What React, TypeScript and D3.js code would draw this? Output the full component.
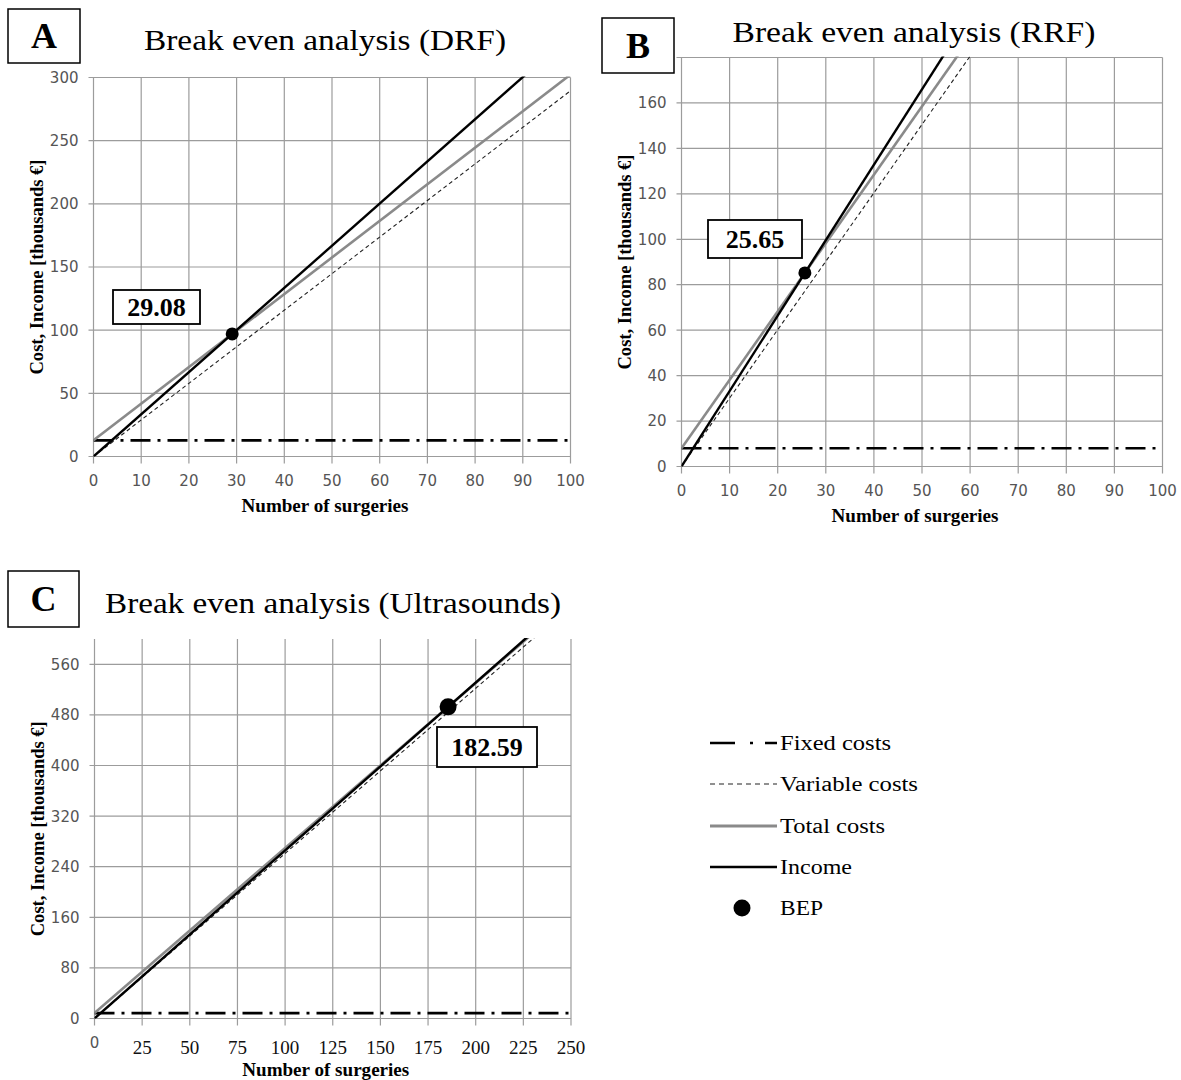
import * as d3 from "d3";
import { useEffect, useRef } from "react";

// Panel A - DRF
const drfSurgeries = [0, 100];
const drfFixedCosts = [12.8, 12.8];
const drfVariableCosts = [0, 289.5];
const drfTotalCosts = [12.8, 302.3];
const drfIncome = [0, 333.7];
const drfBep = [29.08, 97.0];
const drfBepLabel = "29.08";
const drfXTicks = [0, 10, 20, 30, 40, 50, 60, 70, 80, 90, 100];
const drfYTicks = [0, 50, 100, 150, 200, 250, 300];

// Panel B - RRF
const rrfSurgeries = [0, 100];
const rrfFixedCosts = [8, 8];
const rrfVariableCosts = [0, 301];
const rrfTotalCosts = [8, 309];
const rrfIncome = [0, 332];
const rrfBep = [25.65, 85.2];
const rrfBepLabel = "25.65";
const rrfXTicks = [0, 10, 20, 30, 40, 50, 60, 70, 80, 90, 100];
const rrfYTicks = [0, 20, 40, 60, 80, 100, 120, 140, 160, 180];

// Panel C - Ultrasounds
const usSurgeries = [0, 250];
const usFixedCosts = [8.5, 8.5];
const usVariableCosts = [0, 652.5];
const usTotalCosts = [8.5, 661];
const usIncome = [0, 664];
const usBep = [185.5, 492.7];
const usBepLabel = "182.59";
const usXTicks = [0, 25, 50, 75, 100, 125, 150, 175, 200, 225, 250];
const usYTicks = [0, 80, 160, 240, 320, 400, 480, 560];

const legendItems = ["Fixed costs", "Variable costs", "Total costs", "Income", "BEP"];

const SERIF = "'Liberation Serif', 'Times New Roman', serif";
const SANS = "'DejaVu Sans', sans-serif";
const GRID = "#9c9c9c";
const TICK_FILL = "#555";

const panels = [
	{
		id: "drf", letter: "A", title: "Break even analysis (DRF)",
		x0: 93.5, x1: 570.5, y0: 456.5, y1: 77.5, xMax: 100, yMax: 300, topLine: true, topLabel: true,
		letterBox: [8, 9, 72, 54], titlePos: [325, 50, 362],
		bepBox: [113, 290, 87, 34], bepR: 6.5,
		surgeries: drfSurgeries, fixed: drfFixedCosts, variable: drfVariableCosts, total: drfTotalCosts, income: drfIncome,
		bep: drfBep, bepLabel: drfBepLabel, xTicks: drfXTicks, yTicks: drfYTicks, serifX: false,
	},
	{
		id: "rrf", letter: "B", title: "Break even analysis (RRF)",
		x0: 681.5, x1: 1162.5, y0: 466.5, y1: 57.5, xMax: 100, yMax: 180, topLine: true, topLabel: false,
		letterBox: [602, 18, 72, 55], titlePos: [914, 42, 363],
		bepBox: [708, 220, 94, 38], bepR: 6.5,
		surgeries: rrfSurgeries, fixed: rrfFixedCosts, variable: rrfVariableCosts, total: rrfTotalCosts, income: rrfIncome,
		bep: rrfBep, bepLabel: rrfBepLabel, xTicks: rrfXTicks, yTicks: rrfYTicks, serifX: false,
	},
	{
		id: "us", letter: "C", title: "Break even analysis (Ultrasounds)",
		x0: 94.5, x1: 571, y0: 1018.5, y1: 639, xMax: 250, yMax: 600, topLine: false, topLabel: false,
		letterBox: [8, 571, 71, 56], titlePos: [333, 613, 456],
		bepBox: [437, 727, 100, 40], bepR: 8.5,
		surgeries: usSurgeries, fixed: usFixedCosts, variable: usVariableCosts, total: usTotalCosts, income: usIncome,
		bep: usBep, bepLabel: usBepLabel, xTicks: usXTicks, yTicks: usYTicks, serifX: true,
	},
];

const seriesStyle = {
	fixed: { stroke: "#000", width: 2.6, dash: "20,7,3,7" },
	variable: { stroke: "#222", width: 1.1, dash: "4,3" },
	total: { stroke: "#8a8a8a", width: 2.6, dash: null },
	income: { stroke: "#000", width: 2.4, dash: null },
};

function drawPanel(svg, p) {
	const g = svg.append("g").attr("class", p.id);
	const x = d3.scaleLinear().domain([0, p.xMax]).range([p.x0, p.x1]);
	const y = d3.scaleLinear().domain([0, p.yMax]).range([p.y0, p.y1]);
	const yLines = p.topLine ? p.yTicks : p.yTicks.filter(d => d < p.yMax);
	const yLabels = p.topLabel ? p.yTicks : p.yTicks.filter(d => d < p.yMax);

	// grid
	g.append("g").selectAll("line").data(yLines).join("line")
		.attr("x1", p.x0 - 5).attr("x2", p.x1).attr("y1", d => y(d)).attr("y2", d => y(d))
		.attr("stroke", GRID).attr("stroke-width", 1.2);
	g.append("g").selectAll("line").data(p.xTicks).join("line")
		.attr("x1", d => x(d)).attr("x2", d => x(d)).attr("y1", p.y1).attr("y2", p.y0 + 7)
		.attr("stroke", GRID).attr("stroke-width", 1.2);

	// tick labels
	g.append("g").selectAll("text").data(yLabels).join("text")
		.attr("x", p.x0 - 15).attr("y", d => y(d)).attr("dy", "0.36em")
		.attr("text-anchor", "end").attr("font-family", SANS).attr("font-size", 15)
		.attr("fill", TICK_FILL).text(d => d);
	g.append("g").selectAll("text").data(p.xTicks).join("text")
		.attr("x", d => x(d))
		.attr("y", d => (p.serifX && d !== 0 ? p.y0 + 35 : p.y0 + 29))
		.attr("text-anchor", "middle")
		.attr("font-family", d => (p.serifX && d !== 0 ? SERIF : SANS))
		.attr("font-size", d => (p.serifX && d !== 0 ? 19 : 15))
		.attr("fill", d => (p.serifX && d !== 0 ? "#111" : TICK_FILL))
		.text(d => d);

	// axis titles
	g.append("text").attr("x", (p.x0 + p.x1) / 2 - 7).attr("y", p.y0 + (p.serifX ? 57 : 55))
		.attr("text-anchor", "middle").attr("font-family", SERIF).attr("font-weight", "bold")
		.attr("font-size", 18).attr("textLength", 167).attr("lengthAdjust", "spacingAndGlyphs")
		.text("Number of surgeries");
	g.append("text").attr("transform", `translate(${p.x0 - 51},${(p.y0 + p.y1) / 2}) rotate(-90)`)
		.attr("text-anchor", "middle").attr("font-family", SERIF).attr("font-weight", "bold")
		.attr("font-size", 18).attr("textLength", 215).attr("lengthAdjust", "spacingAndGlyphs")
		.text("Cost, Income [thousands €]");

	// lines
	const clipId = `clip-${p.id}`;
	g.append("clipPath").attr("id", clipId).append("rect")
		.attr("x", p.x0).attr("y", p.y1 - 1).attr("width", p.x1 - p.x0 + 1).attr("height", p.y0 - p.y1 + 1);
	const lineGen = d3.line().x(d => x(d[0])).y(d => y(d[1]));
	const lines = g.append("g").attr("clip-path", `url(#${clipId})`);
	["fixed", "variable", "total", "income"].forEach(key => {
		const st = seriesStyle[key];
		const pts = p.surgeries.map((s, i) => [s, p[key][i]]);
		lines.append("path").datum(pts).attr("d", lineGen).attr("fill", "none")
			.attr("stroke", st.stroke).attr("stroke-width", st.width)
			.attr("stroke-dasharray", st.dash);
	});

	// break even point
	g.append("circle").attr("cx", x(p.bep[0])).attr("cy", y(p.bep[1])).attr("r", p.bepR).attr("fill", "#000");

	const [bx, by, bw, bh] = p.bepBox;
	g.append("rect").attr("x", bx).attr("y", by).attr("width", bw).attr("height", bh)
		.attr("fill", "#fff").attr("stroke", "#000").attr("stroke-width", 1.8);
	g.append("text").attr("x", bx + bw / 2).attr("y", by + bh / 2).attr("dy", "0.35em")
		.attr("text-anchor", "middle").attr("font-family", SERIF).attr("font-weight", "bold")
		.attr("font-size", 26).text(p.bepLabel);

	// panel letter and title
	const [lx, ly, lw, lh] = p.letterBox;
	g.append("rect").attr("x", lx).attr("y", ly).attr("width", lw).attr("height", lh)
		.attr("fill", "#fff").attr("stroke", "#000").attr("stroke-width", 1.5);
	g.append("text").attr("x", lx + lw / 2).attr("y", ly + lh / 2).attr("dy", "0.34em")
		.attr("text-anchor", "middle").attr("font-family", SERIF).attr("font-weight", "bold")
		.attr("font-size", 36).text(p.letter);

	const [tx, ty, tl] = p.titlePos;
	g.append("text").attr("x", tx).attr("y", ty).attr("text-anchor", "middle")
		.attr("font-family", SERIF).attr("font-size", 29)
		.attr("textLength", tl).attr("lengthAdjust", "spacingAndGlyphs").text(p.title);
}

function drawLegend(svg) {
	const g = svg.append("g").attr("class", "legend");
	const rowY = [743, 784, 826, 867, 908];
	const textLen = [111, 138, 105, 72, 43];
	const styles = [
		{ stroke: "#000", width: 2.6, dash: "25,15,3,12,20" },
		{ stroke: "#222", width: 1.1, dash: "5,4" },
		{ stroke: "#8a8a8a", width: 3, dash: null },
		{ stroke: "#000", width: 2.6, dash: null },
	];
	legendItems.forEach((name, i) => {
		if (i < 4) {
			const st = styles[i];
			g.append("line").attr("x1", 710).attr("x2", 777).attr("y1", rowY[i]).attr("y2", rowY[i])
				.attr("stroke", st.stroke).attr("stroke-width", st.width).attr("stroke-dasharray", st.dash);
		} else {
			g.append("circle").attr("cx", 742).attr("cy", rowY[i]).attr("r", 8.5).attr("fill", "#000");
		}
		g.append("text").attr("x", 780).attr("y", rowY[i] + 6.5).attr("font-family", SERIF)
			.attr("font-size", 20).attr("textLength", textLen[i]).attr("lengthAdjust", "spacingAndGlyphs")
			.text(name);
	});
}

export default function App() {
	const ref = useRef(null);

	useEffect(() => {
		const svg = d3.select(ref.current);
		svg.selectAll("*").remove();
		panels.forEach(p => drawPanel(svg, p));
		drawLegend(svg);
	}, []);

	return (
		<>
			<style>{"body{margin:0;background:#fff}"}</style>
			<svg ref={ref} width={1181} height={1080} style={{ display: "block", background: "#fff" }} />
		</>
	);
}
